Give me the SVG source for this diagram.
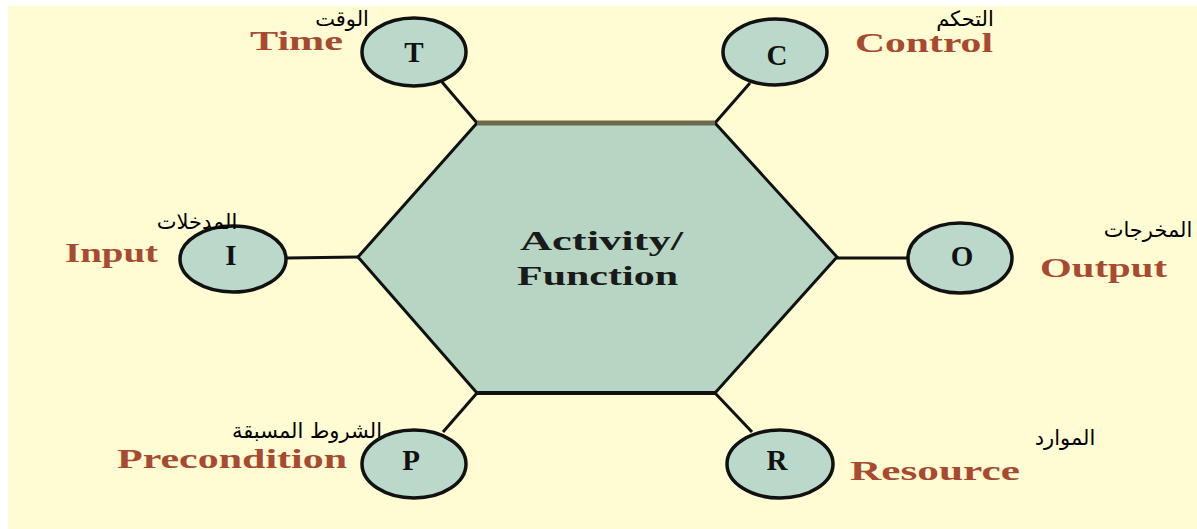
<svg xmlns="http://www.w3.org/2000/svg" width="1197" height="529" viewBox="0 0 1197 529">
<style>
.bg{fill:#FFFBD2;}
.hex{fill:#B6D6C3;stroke:#111;stroke-width:3;stroke-linejoin:miter;}
.node{fill:#BBD9CA;stroke:#111;stroke-width:3.5;}
.conn{stroke:#111;stroke-width:3;fill:none;}
.lbl{font-family:"Liberation Serif","Times New Roman",serif;font-weight:bold;font-size:27px;fill:#A84A30;}
.let{font-family:"Liberation Serif","Times New Roman",serif;font-weight:bold;font-size:29px;fill:#111;text-anchor:middle;}
.act{font-family:"Liberation Serif","Times New Roman",serif;font-weight:bold;font-size:28px;fill:#1a1a1a;}
.ar{font-family:"DejaVu Sans","Liberation Sans",sans-serif;font-size:21px;fill:#000;text-anchor:middle;}
</style>
<rect class="bg" x="8" y="6" width="1189" height="523"/>
<g id="connectors">
<line class="conn" x1="442" y1="82" x2="477" y2="123"/>
<line class="conn" x1="750" y1="83" x2="715" y2="123"/>
<line class="conn" x1="287" y1="258" x2="358" y2="257"/>
<line class="conn" x1="837" y1="258" x2="908" y2="258"/>
<line class="conn" x1="443" y1="432" x2="477" y2="393"/>
<line class="conn" x1="752" y1="432" x2="715" y2="393"/>
</g>
<g id="activity">
<polygon class="hex" points="477,123 715,123 837,257 715,393 477,393 358,257"/>
<line x1="477" y1="123" x2="715" y2="123" stroke="#6B6B4C" stroke-width="5"/>
<line x1="477" y1="393" x2="715" y2="393" stroke="#111" stroke-width="4"/>
<text class="act" x="520" y="250" textLength="163" lengthAdjust="spacingAndGlyphs">Activity/</text>
<text class="act" x="517" y="285" textLength="161" lengthAdjust="spacingAndGlyphs">Function</text>
</g>
<g id="time">
<ellipse class="node" cx="414" cy="52" rx="52" ry="34"/>
<text class="let" x="414" y="62">T</text>
<text class="lbl" x="250" y="50" textLength="93" lengthAdjust="spacingAndGlyphs">Time</text>
<text class="ar" x="342" y="26">الوقت</text>
</g>
<g id="control">
<ellipse class="node" cx="775" cy="52" rx="52" ry="33"/>
<text class="let" x="777" y="65">C</text>
<text class="lbl" x="855" y="52" textLength="138" lengthAdjust="spacingAndGlyphs">Control</text>
<text class="ar" x="965" y="26">التحكم</text>
</g>
<g id="input">
<ellipse class="node" cx="233" cy="259" rx="53" ry="33"/>
<text class="let" x="231" y="265">I</text>
<text class="lbl" x="65" y="262" textLength="93" lengthAdjust="spacingAndGlyphs">Input</text>
<text class="ar" x="197" y="229">المدخلات</text>
</g>
<g id="output">
<ellipse class="node" cx="960" cy="258" rx="52" ry="35"/>
<text class="let" x="962" y="266">O</text>
<text class="lbl" x="1040" y="277" textLength="127" lengthAdjust="spacingAndGlyphs">Output</text>
<text class="ar" x="1148" y="237">المخرجات</text>
</g>
<g id="precondition">
<ellipse class="node" cx="414" cy="464" rx="52" ry="34"/>
<text class="let" x="411" y="470">P</text>
<text class="lbl" x="117" y="468" textLength="230" lengthAdjust="spacingAndGlyphs">Precondition</text>
<text class="ar" x="307" y="438">الشروط المسبقة</text>
</g>
<g id="resource">
<ellipse class="node" cx="780" cy="464" rx="53" ry="34"/>
<text class="let" x="777" y="470">R</text>
<text class="lbl" x="850" y="480" textLength="170" lengthAdjust="spacingAndGlyphs">Resource</text>
<text class="ar" x="1065" y="445">الموارد</text>
</g>
</svg>
